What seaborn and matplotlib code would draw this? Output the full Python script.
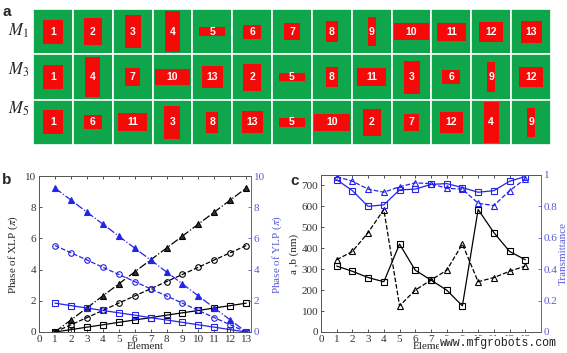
import matplotlib
matplotlib.use('Agg')
import matplotlib.pyplot as plt
import seaborn as sns
from matplotlib.patches import Rectangle

# element numbers and bar sizes (nm)
elements = list(range(1, 14))
a_nm = [315, 290, 260, 240, 420, 295, 248, 200, 125, 585, 475, 385, 345]
b_nm = [345, 385, 475, 585, 125, 200, 248, 295, 420, 240, 260, 290, 315]
# transmittance (x / y polarisation)
trans_sq = [0.97, 0.90, 0.80, 0.81, 0.905, 0.91, 0.94, 0.945, 0.92, 0.89, 0.90, 0.96, 0.99]
trans_tri = [0.99, 0.96, 0.91, 0.89, 0.925, 0.95, 0.945, 0.915, 0.91, 0.82, 0.805, 0.90, 0.975]

# phase in units of pi, panel b
xlp_m1 = [0, 0.15, 0.31, 0.46, 0.62, 0.77, 0.92, 1.08, 1.23, 1.38, 1.54, 1.69, 1.85]
xlp_m3 = [0, 0.46, 0.92, 1.38, 1.85, 2.31, 2.77, 3.23, 3.69, 4.15, 4.62, 5.08, 5.54]
xlp_m5 = [0, 0.77, 1.54, 2.31, 3.08, 3.85, 4.62, 5.38, 6.15, 6.92, 7.69, 8.46, 9.23]
ylp_m1 = [1.85, 1.69, 1.54, 1.38, 1.23, 1.08, 0.92, 0.77, 0.62, 0.46, 0.31, 0.15, 0]
ylp_m3 = [5.54, 5.08, 4.62, 4.15, 3.69, 3.23, 2.77, 2.31, 1.85, 1.38, 0.92, 0.46, 0]
ylp_m5 = [9.23, 8.46, 7.69, 6.92, 6.15, 5.38, 4.62, 3.85, 3.08, 2.31, 1.54, 0.77, 0]

# element order in each metasurface row of panel a
row_names = ['$M_1$', '$M_3$', '$M_5$']
m1_order = [1, 2, 3, 4, 5, 6, 7, 8, 9, 10, 11, 12, 13]
m3_order = [1, 4, 7, 10, 13, 2, 5, 8, 11, 3, 6, 9, 12]
m5_order = [1, 6, 11, 3, 8, 13, 5, 10, 2, 7, 12, 4, 9]
period = 650

sns.set_style('ticks')
plt.rcParams['font.family'] = ['Liberation Serif', 'DejaVu Serif']
plt.rcParams['mathtext.fontset'] = 'stix'

GREEN = '#0fa54b'
RED = '#f50a0a'
BLUE = '#2424e8'
BLUE_T = '#5a5ad8'
AX = '#555555'

fig = plt.figure(figsize=(5.67, 3.53), dpi=100)

# ---- panel a : layout of the unit cells
ax_a = fig.add_axes([0.0582, 0.589, 0.9136, 0.3853])
for r, order in enumerate([m1_order, m3_order, m5_order]):
    for c, el in enumerate(order):
        ax_a.add_patch(Rectangle((c * period, r * period), period, period,
                                 fc=GREEN, ec='white', lw=1.2))
        w = a_nm[el - 1]
        h = b_nm[el - 1]
        ax_a.add_patch(Rectangle((c * period + (period - w) / 2, r * period + (period - h) / 2),
                                 w, h, fc=RED, ec='none'))
        ax_a.text((c + 0.5) * period, (r + 0.5) * period, str(el), color='white',
                  fontsize=7.5, fontweight='bold', family='Liberation Sans',
                  ha='center', va='center')
ax_a.set_xlim(0, 13 * period)
ax_a.set_ylim(3 * period, 0)
ax_a.axis('off')
for i, name in enumerate(row_names):
    fig.text(0.033, 0.912 - i * 0.11, name, fontsize=12, ha='center', va='center')

# ---- panel b : phase
ax_b = fig.add_axes([0.0688, 0.0595, 0.3739, 0.4419])
ax_b2 = ax_b.twinx()
for vals, mk, ls in [(xlp_m5, '^', '-.'), (xlp_m3, 'o', '--'), (xlp_m1, 's', '-')]:
    sns.lineplot(x=elements, y=vals, ax=ax_b, color='black', marker=mk, linestyle=ls,
                 markersize=4, markerfacecolor='none' if mk != '^' else '#333333',
                 markeredgecolor='black', markeredgewidth=0.8, lw=0.9)
for vals, mk, ls in [(ylp_m5, '^', '-.'), (ylp_m3, 'o', '--'), (ylp_m1, 's', '-')]:
    sns.lineplot(x=elements, y=vals, ax=ax_b2, color=BLUE, marker=mk, linestyle=ls,
                 markersize=4, markerfacecolor='none' if mk != '^' else BLUE,
                 markeredgecolor=BLUE, markeredgewidth=0.8, lw=0.9)
ax_b.set_xlim(0, 13.3)
ax_b.set_ylim(0, 10)
ax_b2.set_ylim(0, 10)
ax_b.set_xticks(range(0, 14))
ax_b.set_yticks(range(0, 11, 2))
ax_b2.set_yticks(range(0, 11, 2))
ax_b.set_xlabel('Element', fontsize=8, labelpad=-1)
ax_b.set_ylabel('Phase of XLP ($\\pi$)', fontsize=8, labelpad=4)
ax_b2.set_ylabel('Phase of YLP ($\\pi$)', fontsize=8, color=BLUE_T, labelpad=4)

# ---- panel c : sizes and transmittance
ax_c = fig.add_axes([0.5661, 0.0595, 0.388, 0.4448])
ax_c2 = ax_c.twinx()
sns.lineplot(x=elements, y=a_nm, ax=ax_c, color='black', marker='s', linestyle='-',
             markersize=4, markerfacecolor='none', markeredgecolor='black',
             markeredgewidth=0.8, lw=0.9)
sns.lineplot(x=elements, y=b_nm, ax=ax_c, color='black', marker='^', linestyle='--',
             markersize=4, markerfacecolor='none', markeredgecolor='black',
             markeredgewidth=0.8, lw=0.9)
sns.lineplot(x=elements, y=trans_sq, ax=ax_c2, color=BLUE, marker='s', linestyle='-',
             markersize=4, markerfacecolor='none', markeredgecolor=BLUE,
             markeredgewidth=0.8, lw=0.9)
sns.lineplot(x=elements, y=trans_tri, ax=ax_c2, color=BLUE, marker='^', linestyle='--',
             markersize=4, markerfacecolor='none', markeredgecolor=BLUE,
             markeredgewidth=0.8, lw=0.9)
ax_c.set_xlim(0, 14)
ax_c.set_ylim(0, 750)
ax_c2.set_ylim(0, 1)
ax_c.set_xticks(range(0, 14))
ax_c.set_yticks(range(0, 701, 100))
ax_c2.set_yticks([0, 0.2, 0.4, 0.6, 0.8, 1])
ax_c2.set_yticklabels(['0', '0.2', '0.4', '0.6', '0.8', '1'])
ax_c.set_xlabel('Element', fontsize=8, labelpad=-1)
ax_c.set_ylabel('a ,b (nm)', fontsize=8, labelpad=2)
ax_c2.set_ylabel('Transmittance', fontsize=8, color=BLUE_T, labelpad=0.5)

for ax in [ax_b, ax_c]:
    ax.tick_params(direction='in', top=True, length=2.5, width=0.6, labelsize=8,
                   colors='#333333', pad=2)
for ax in [ax_b2, ax_c2]:
    ax.tick_params(direction='in', length=2.5, width=0.6, labelsize=8,
                   colors=BLUE_T, pad=2)
for ax in [ax_b, ax_b2, ax_c, ax_c2]:
    for side in ['left', 'bottom', 'top']:
        ax.spines[side].set_color(AX)
        ax.spines[side].set_linewidth(0.6)
    ax.spines['right'].set_color(BLUE_T)
    ax.spines['right'].set_linewidth(0.6)

# panel letters
fig.text(0.004, 0.985, 'a', fontsize=11, fontweight='bold', family='Liberation Sans', va='top')
fig.text(0.004, 0.51, 'b', fontsize=11, fontweight='bold', family='Liberation Sans', va='top')
fig.text(0.512, 0.508, 'c', fontsize=11, fontweight='bold', family='Liberation Sans', va='top')

fig.text(0.982, 0.028, 'www.mfgrobots.com', fontsize=8.3, family='Liberation Mono',
         ha='right', va='center', color='#222222',
         bbox=dict(fc='white', ec='none', pad=0.5))

fig.savefig('out.png', dpi=100)
